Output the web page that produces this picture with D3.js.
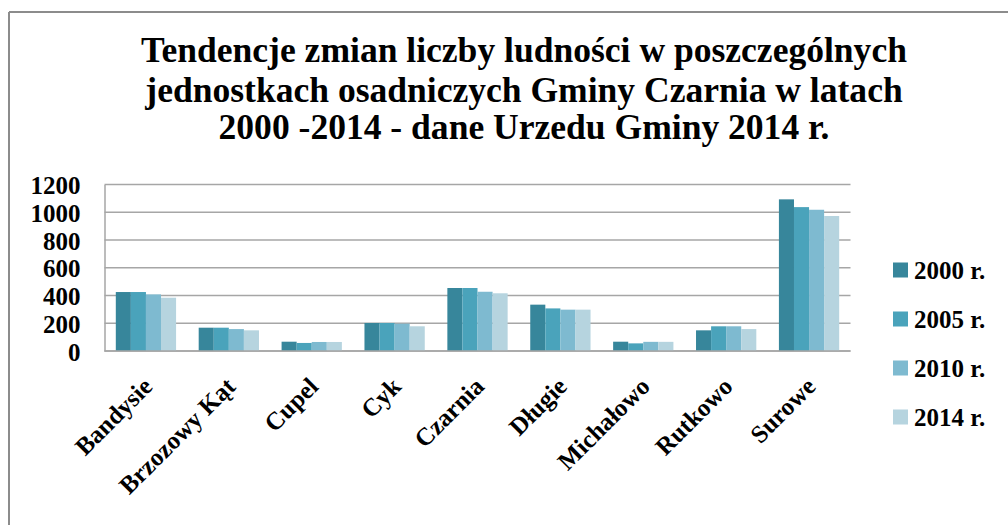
<!DOCTYPE html>
<html>
<head>
<meta charset="utf-8">
<script src="https://cdn.jsdelivr.net/npm/d3@7"></script>
<style>
  body { margin: 0; background: #fff; }
  svg text { font-family: 'Liberation Serif', 'DejaVu Serif', serif; font-weight: bold; fill: #000; }
</style>
</head>
<body>
<svg id="chart" width="1008" height="525"></svg>
<script>
// dane
const titleLines = [
  'Tendencje zmian liczby ludności w poszczególnych',
  'jednostkach osadniczych Gminy Czarnia w latach',
  '2000 -2014 - dane Urzedu Gminy 2014 r.',
];
const places = ['Bandysie', 'Brzozowy Kąt', 'Cupel', 'Cyk', 'Czarnia', 'Długie', 'Michałowo', 'Rutkowo', 'Surowe'];
const years = ['2000 r.', '2005 r.', '2010 r.', '2014 r.'];
const values2000 = [425, 168, 67, 202, 454, 334, 67, 149, 1093];
const values2005 = [425, 168, 58, 202, 454, 307, 55, 178, 1037];
const values2010 = [408, 158, 65, 197, 427, 298, 66, 178, 1018];
const values2014 = [384, 149, 65, 178, 416, 298, 66, 158, 973];
const yTicks = [0, 200, 400, 600, 800, 1000, 1200];
const colors = ['#37869b', '#4aa3bb', '#7ebad0', '#b6d4df'];

const series = [values2000, values2005, values2010, values2014];
const labelFont = '25px';

const svg = d3.select('#chart');

// ramka (tylko lewa i górna krawędź widoczne)
svg.append('line')
  .attr('x1', 9).attr('x2', 9).attr('y1', 12).attr('y2', 525)
  .attr('stroke', '#8c8c8c').attr('stroke-width', 2);
svg.append('line')
  .attr('x1', 9).attr('x2', 1008).attr('y1', 12).attr('y2', 12)
  .attr('stroke', '#8c8c8c').attr('stroke-width', 2);

// tytuł
const title = svg.append('g');
title.selectAll('text')
  .data(titleLines)
  .enter()
  .append('text')
  .attr('x', 524)
  .attr('y', (d, i) => [61.7, 101.7, 139][i])
  .attr('text-anchor', 'middle')
  .style('font-size', '30px')
  .text(d => d);

// dopasowanie szerokości tytułu
const firstLen = title.select('text').node().getComputedTextLength();
const fs = 30 * 766 / firstLen;
title.selectAll('text').style('font-size', `${fs}px`);

const margin = { left: 104.5, right: 850.5, top: 184.5, bottom: 351 };

const xScale = d3.scaleBand()
  .domain(places)
  .range([margin.left, margin.right])
  .paddingInner(1.5 / 5.5)
  .paddingOuter(0.75 / 5.5);

const xInner = d3.scaleBand()
  .domain(years)
  .range([0, xScale.bandwidth()]);

const yScale = d3.scaleLinear()
  .domain([0, 1200])
  .range([margin.bottom, margin.top]);

// siatka
svg.append('g')
  .selectAll('line')
  .data(yTicks)
  .enter()
  .append('line')
  .attr('x1', margin.left)
  .attr('x2', margin.right)
  .attr('y1', d => yScale(d))
  .attr('y2', d => yScale(d))
  .attr('stroke', '#a6a6a6')
  .attr('stroke-width', 1.5);

// oś Y
const yAxis = svg.append('g')
  .attr('transform', `translate(${margin.left},0)`)
  .call(d3.axisLeft(yScale).tickValues(yTicks).tickFormat(d3.format('d')).tickSize(0).tickPadding(24));
yAxis.attr('font-family', "'Liberation Serif', serif").attr('font-size', null);
yAxis.select('.domain').attr('stroke', '#a6a6a6').attr('stroke-width', 1.5);
yAxis.selectAll('text')
  .style('font-size', labelFont)
  .attr('dy', '0.36em');

// słupki
const groups = svg.append('g')
  .selectAll('g')
  .data(places)
  .enter()
  .append('g')
  .attr('transform', d => `translate(${xScale(d)},0)`);

groups.selectAll('rect')
  .data((d, i) => series.map((s, j) => ({ year: years[j], value: s[i], color: colors[j] })))
  .enter()
  .append('rect')
  .attr('x', d => xInner(d.year))
  .attr('y', d => yScale(d.value))
  .attr('width', xInner.bandwidth())
  .attr('height', d => yScale(0) - yScale(d.value))
  .attr('fill', d => d.color);

// linia bazowa
svg.append('line')
  .attr('x1', margin.left).attr('x2', margin.right)
  .attr('y1', yScale(0)).attr('y2', yScale(0))
  .attr('stroke', '#a6a6a6').attr('stroke-width', 1.5);

// etykiety X
svg.append('g')
  .selectAll('text')
  .data(places)
  .enter()
  .append('text')
  .attr('text-anchor', 'end')
  .attr('transform', d => `translate(${xScale(d) + xScale.bandwidth() / 2 + 8},388) rotate(-45)`)
  .style('font-size', labelFont)
  .text(d => d);

// legenda
const legend = svg.append('g')
  .selectAll('g')
  .data(years)
  .enter()
  .append('g')
  .attr('transform', (d, i) => `translate(893,${270 + i * 49})`);

legend.append('rect')
  .attr('x', 0)
  .attr('y', -7.5)
  .attr('width', 15)
  .attr('height', 15)
  .attr('fill', (d, i) => colors[i]);

legend.append('text')
  .attr('x', 21)
  .attr('y', 0)
  .attr('dy', '0.36em')
  .style('font-size', labelFont)
  .text(d => d);
</script>
</body>
</html>
